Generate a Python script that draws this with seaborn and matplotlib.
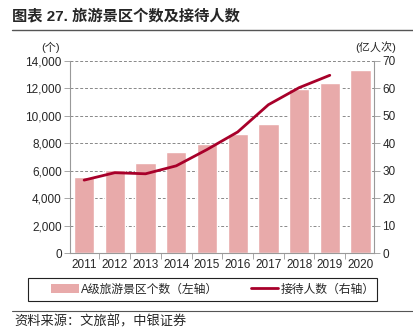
import numpy as np
import pandas as pd
import matplotlib
matplotlib.use("Agg")
import matplotlib.pyplot as plt
import seaborn as sns
from matplotlib.lines import Line2D
from matplotlib.patches import Patch, Rectangle
from matplotlib.ticker import FuncFormatter, FixedLocator

years = ["2011", "2012", "2013", "2014", "2015", "2016", "2017", "2018", "2019", "2020"]
scenic_counts = [5550, 6042, 6600, 7350, 7930, 8650, 9430, 11920, 12400, 13300]
line_years = ["2011", "2012", "2013", "2014", "2015", "2016", "2017", "2018", "2019"]
visitors = [26.6, 29.3, 28.9, 31.8, 37.7, 44.1, 54.0, 60.2, 64.7]

title = "图表 27. 旅游景区个数及接待人数"
bar_label = "A级旅游景区个数（左轴）"
line_label = "接待人数（右轴）"
source = "资料来源：文旅部，中银证券"

sns.set_theme(style="white")
plt.rcParams['font.family'] = ['Liberation Sans', 'Noto Sans CJK SC', 'DejaVu Sans']

bar_color = "#E8AAAA"
line_color = "#A8002A"

W, H = 413, 330
fig = plt.figure(figsize=(4.13, 3.30), dpi=100)
ax = fig.add_axes([0.1695, 0.2324, 0.9056 - 0.1695, 0.816 - 0.2324])

df = pd.DataFrame({"year": years, "count": scenic_counts})
sns.barplot(data=df, x="year", y="count", color=bar_color, saturation=1, width=0.66, ax=ax, zorder=2)

ax2 = ax.twinx()
ldf = pd.DataFrame({"pos": [years.index(y) for y in line_years], "v": visitors})
sns.lineplot(data=ldf, x="pos", y="v", color=line_color, linewidth=2.0, ax=ax2, zorder=3)

ax.set_xlim(-0.46, 9.44)
ax.set_ylim(0, 14000)
ax2.set_ylim(0, 70)
ax.set_yticks(np.arange(0, 14001, 2000))
ax2.set_yticks(np.arange(0, 71, 10))
ax.yaxis.set_major_formatter(FuncFormatter(lambda v, p: f"{int(v):,}"))
ax.set_xlabel("")
ax.set_ylabel("")
ax2.set_xlabel("")
ax2.set_ylabel("")

ax.grid(axis="y", linestyle=(0, (3, 2)), color="#888888", linewidth=0.7, zorder=0)
ax.set_axisbelow(True)

ax.spines["top"].set_visible(False)
ax2.spines["top"].set_visible(False)
ax.spines["right"].set_visible(False)
ax2.spines["left"].set_visible(False)
ax2.spines["bottom"].set_visible(False)
ax.spines["left"].set_color("#999999")
ax.spines["bottom"].set_color("#999999")
ax2.spines["right"].set_color("#999999")
for a in (ax, ax2):
    for s in a.spines.values():
        s.set_linewidth(0.8)

ax.tick_params(axis="y", which="major", direction="out", length=4, width=0.6, color="#999999",
               labelsize=8.5, pad=2, left=True)
ax2.tick_params(axis="y", which="major", direction="out", length=4, width=0.6, color="#999999",
                labelsize=8.5, pad=2, right=True)
ax.tick_params(axis="x", which="major", length=0, labelsize=8.5, pad=4)
ax.xaxis.set_minor_locator(FixedLocator(np.arange(0.5, 9.0, 1.0)))
ax.tick_params(axis="x", which="minor", direction="out", length=4, width=0.6, color="#999999", bottom=True)

fig.text(12/W, 1 - 16/H, title, fontsize=11, fontweight="bold", ha="left", va="center")
fig.add_artist(Line2D([12/W, 1.0], [1 - 30/H, 1 - 30/H], color="#555555", linewidth=1.0))
fig.add_artist(Line2D([12/W, 1.0], [1 - 311/H, 1 - 311/H], color="#555555", linewidth=0.8))

fig.text(51/W, 1 - 47/H, "(个)", fontsize=8, ha="center", va="center")
fig.text(376/W, 1 - 47/H, "(亿人次)", fontsize=8, ha="center", va="center")

# legend frame
fig.add_artist(Rectangle((28/W, 1 - 301/H), (377 - 28)/W, (301 - 278)/H, transform=fig.transFigure,
                         fill=False, edgecolor="#222222", linewidth=0.8))
handles = [Patch(facecolor=bar_color, edgecolor="none"),
           Line2D([0], [0], color=line_color, linewidth=2.0)]
leg = fig.legend(handles, [bar_label, line_label], loc="center", ncol=2,
                 bbox_to_anchor=(213/W, 1 - 289.5/H), frameon=False, fontsize=8.5,
                 handlelength=2.3, handleheight=0.8, columnspacing=2.8, borderpad=0.2,
                 handletextpad=0.2)

fig.text(14/W, 1 - 322/H, source, fontsize=9.5, style="italic", ha="left", va="center")

fig.savefig("out.png", dpi=100)
